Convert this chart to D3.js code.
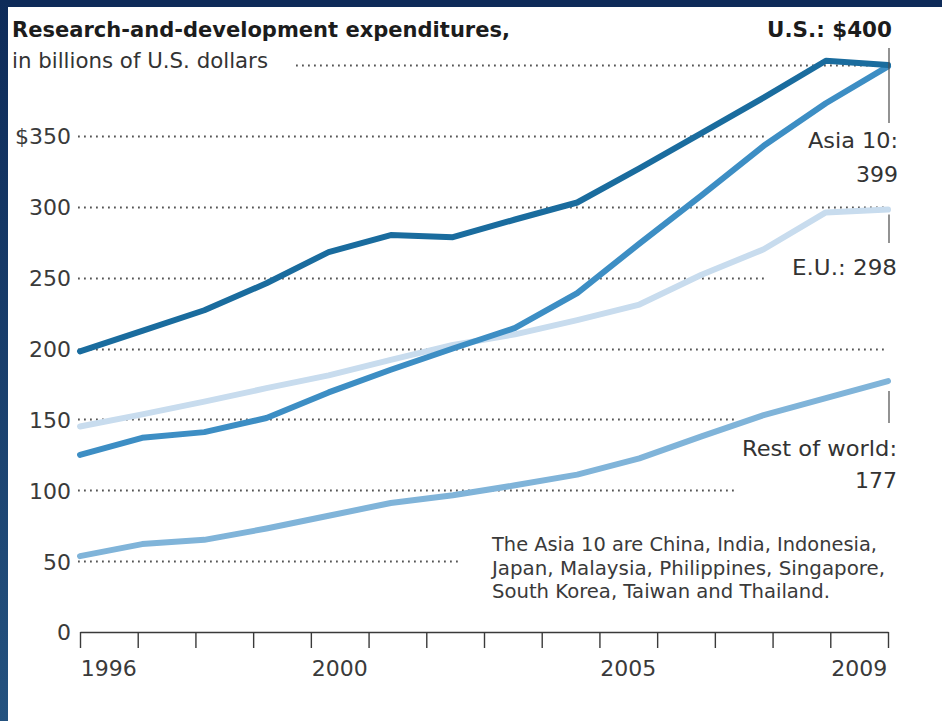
<!DOCTYPE html>
<html>
<head>
<meta charset="utf-8">
<script src="https://cdn.jsdelivr.net/npm/d3@7"></script>
<style>
  html, body { margin: 0; padding: 0; background: #ffffff; overflow: hidden; }
  svg { display: block; }
</style>
</head>
<body>
<svg id="chart" width="942" height="721"></svg>
<script>
// R&D spending by region, billions of U.S. dollars, 1996-2009
const years = [1996, 1997, 1998, 1999, 2000, 2001, 2002, 2003, 2004, 2005, 2006, 2007, 2008, 2009];
const usValues   = [198, 212.5, 227, 246, 268, 280, 278.5, 291, 303, 327, 352, 377, 403, 400];
const asiaValues = [125, 137, 141, 151, 169, 185, 200, 214.5, 239, 274, 308, 343, 373, 399];
const euValues   = [145, 153.5, 162.5, 172, 181, 192, 202.5, 210, 220, 231, 252, 270, 296, 298];
const rowValues  = [53.5, 62, 65, 73, 82, 91, 96.5, 103.5, 111, 122.5, 138, 153, 165, 177];

const yTickValues = [0, 50, 100, 150, 200, 250, 300, 350, 400];
const yTickLabels = ["0", "50", "100", "150", "200", "250", "300", "$350", ""];
const xLabelYears = [1996, 2000, 2005, 2009];

const svg = d3.select("#chart");
const W = 942, H = 721;
const FONT = "'DejaVu Sans', Verdana, sans-serif";

// ---- frame -------------------------------------------------------------
const defs = svg.append("defs");
const grad = defs.append("linearGradient").attr("id", "edgeGrad")
  .attr("x1", 0).attr("y1", 0).attr("x2", 0).attr("y2", 1);
grad.append("stop").attr("offset", "0%").attr("stop-color", "#0e2b59");
grad.append("stop").attr("offset", "100%").attr("stop-color", "#24527f");

svg.append("rect").attr("x", 0).attr("y", 0).attr("width", W).attr("height", H).attr("fill", "#ffffff");
svg.append("rect").attr("x", 0).attr("y", 0).attr("width", W).attr("height", 7).attr("fill", "#0e2b59");
svg.append("rect").attr("x", 0).attr("y", 0).attr("width", 8).attr("height", H).attr("fill", "url(#edgeGrad)");

// ---- scales ------------------------------------------------------------
const x0 = 80, x1 = 888;
const xPoint = d3.scalePoint().domain(years).range([x0, x1]).padding(0);
const xBand = d3.scaleBand().domain(years).range([x0, x1]).paddingInner(0).paddingOuter(0);
const xEdge = d3.scaleLinear().domain([0, years.length]).range([x0, x1]);
const y = d3.scaleLinear().domain([0, 400]).range([632, 65]);

// ---- dotted gridlines (each run stops short of nearby labels) -----------
const gridRuns = new Map([
  [400, [296, 888]], [350, [78, 768]], [300, [78, 888]], [250, [78, 765]],
  [200, [78, 888]], [150, [78, 737]], [100, [78, 737]], [50, [78, 460]]
]);
svg.append("g").attr("class", "grid")
  .selectAll("line")
  .data(yTickValues.filter(v => gridRuns.has(v)))
  .join("line")
  .attr("x1", d => gridRuns.get(d)[0])
  .attr("x2", d => gridRuns.get(d)[1])
  .attr("y1", d => Math.round(y(d)) + 0.5)
  .attr("y2", d => Math.round(y(d)) + 0.5)
  .attr("stroke", "#555555")
  .attr("stroke-width", 1.8)
  .attr("stroke-dasharray", "1.8 4.2");

// ---- y axis labels -----------------------------------------------------
const yAxis = d3.axisLeft(y)
  .tickValues(yTickValues)
  .tickSize(0)
  .tickPadding(0)
  .tickFormat((d, i) => yTickLabels[i]);
const gy = svg.append("g").attr("transform", "translate(71,0)").call(yAxis);
gy.select(".domain").remove();
gy.selectAll("text")
  .attr("font-family", FONT).attr("font-size", 22)
  .attr("fill", "#3a3a3a").attr("dy", "0.36em");

// ---- x axis: baseline with year-boundary ticks --------------------------
const xTickAxis = d3.axisBottom(xEdge)
  .tickValues(d3.range(years.length + 1))
  .tickSize(16)
  .tickSizeOuter(0)
  .tickFormat("");
const gx = svg.append("g").attr("transform", `translate(0,${y(0)})`).call(xTickAxis);
gx.select(".domain").attr("stroke", "#3a3a3a").attr("stroke-width", 1.6);
gx.selectAll(".tick line").attr("stroke", "#3a3a3a").attr("stroke-width", 1.4);

// year labels sit in the middle of each year's span
const xLabelAxis = d3.axisBottom(xBand)
  .tickValues(xLabelYears)
  .tickSize(0)
  .tickPadding(0);
const gxl = svg.append("g").attr("transform", "translate(0,659)").call(xLabelAxis);
gxl.select(".domain").remove();
gxl.selectAll("text")
  .attr("font-family", FONT).attr("font-size", 22)
  .attr("fill", "#3a3a3a").attr("dy", "0.78em");

// ---- series lines ------------------------------------------------------
const series = [
  { name: "E.U.", values: euValues, color: "#c8dcee" },
  { name: "Rest of world", values: rowValues, color: "#80b4d9" },
  { name: "Asia 10", values: asiaValues, color: "#3d8ec4" },
  { name: "U.S.", values: usValues, color: "#1a6c9e" }
];
const line = d3.line()
  .x((d, i) => xPoint(years[i]))
  .y(d => y(d))
  .curve(d3.curveLinear);

svg.append("g").attr("class", "series")
  .selectAll("path")
  .data(series)
  .join("path")
  .attr("d", d => line(d.values))
  .attr("fill", "none")
  .attr("stroke", d => d.color)
  .attr("stroke-width", 6)
  .attr("stroke-linejoin", "round")
  .attr("stroke-linecap", "round");

// ---- leader lines from the 2009 end points -----------------------------
const xEnd = xPoint(years[years.length - 1]) + 1;
const last = arr => arr[arr.length - 1];
const leaders = [
  [48, 123],
  [y(last(euValues)) + 5, 243],
  [y(last(rowValues)) + 10, 423]
];
svg.append("g").selectAll("line").data(leaders).join("line")
  .attr("x1", xEnd).attr("x2", xEnd)
  .attr("y1", d => d[0]).attr("y2", d => d[1])
  .attr("stroke", "#4a4a4a").attr("stroke-width", 1.2);

// ---- text --------------------------------------------------------------
function label(txt, x, yy, opts = {}) {
  const t = svg.append("text")
    .attr("x", x).attr("y", yy)
    .attr("font-family", FONT)
    .attr("font-size", opts.size || 22)
    .attr("font-weight", opts.bold ? "bold" : "normal")
    .attr("fill", opts.color || "#333333")
    .attr("text-anchor", opts.anchor || "start")
    .text(txt);
  if (opts.width) t.attr("textLength", opts.width).attr("lengthAdjust", "spacingAndGlyphs");
  return t;
}

label("Research-and-development expenditures,", 12, 37, { size: 21, bold: true, color: "#1c1c1c", width: 498 });
label("in billions of U.S. dollars", 12, 68, { size: 21, color: "#333333", width: 256 });

label(`U.S.: $${last(usValues)}`, 892, 37, { size: 22, bold: true, color: "#1c1c1c", anchor: "end", width: 125 });
label("Asia 10:", 898, 148, { anchor: "end", width: 90 });
label(String(last(asiaValues)), 898, 182, { anchor: "end" });
label(`E.U.: ${last(euValues)}`, 897, 275, { anchor: "end", width: 105 });
label("Rest of world:", 897, 456, { anchor: "end", width: 155 });
label(String(last(rowValues)), 897, 488, { anchor: "end" });

const note = [
  ["The Asia 10 are China, India, Indonesia,", 385],
  ["Japan, Malaysia, Philippines, Singapore,", 393],
  ["South Korea, Taiwan and Thailand.", 338]
];
note.forEach(([txt, w], i) => {
  label(txt, 492, 551 + i * 23.5, { size: 19, color: "#3a3a3a", width: w });
});
</script>
</body>
</html>
